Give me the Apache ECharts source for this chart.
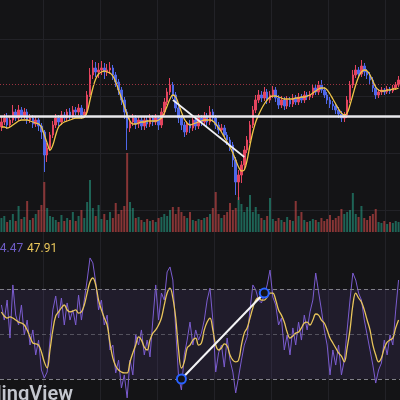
<!DOCTYPE html>
<html><head><meta charset="utf-8">
<script src="https://cdn.jsdelivr.net/npm/echarts@6/dist/echarts.min.js"></script>
<style>html,body{margin:0;padding:0;background:#141416;}#c{width:400px;height:400px;}</style>
</head><body><div id="c"></div>
<script>
const openP = [140,145,149,142,147,155,149,157,151,155,147,149,143,147,141,135,112,119,132,142,149,145,152,149,155,151,157,155,159,152,155,172,192,199,195,197,199,195,197,199,192,185,177,167,155,139,145,149,143,147,141,147,143,149,145,149,142,155,165,175,182,172,159,149,142,135,143,139,147,141,149,145,151,145,155,149,142,137,139,132,127,122,107,85,92,102,117,127,142,157,167,172,169,175,167,172,177,169,162,167,161,167,163,169,165,170,167,172,170,172,179,175,182,177,172,167,163,161,157,153,149,152,167,182,192,197,193,201,195,192,187,179,172,175,177,175,178,176,179,182];
const closeP = [145,149,142,147,155,149,157,151,155,147,149,143,147,141,135,112,119,132,142,149,145,152,149,155,151,157,155,159,152,155,172,192,199,195,197,199,195,197,199,192,185,177,167,155,139,145,149,143,147,141,147,143,149,145,149,142,155,165,175,182,172,159,149,142,135,143,139,147,141,149,145,151,145,155,149,142,137,139,132,127,122,107,85,92,102,117,127,142,157,167,172,169,175,167,172,177,169,162,167,161,167,163,169,165,170,167,172,170,172,179,175,182,177,172,167,163,161,157,153,149,152,167,182,192,197,193,201,195,192,187,179,172,175,177,175,178,176,179,182,187];
const highP = [150,153,154,151,162,158,162,160,159,158,153,152,150,149,144,137,124,135,146,153,152,156,155,158,159,161,160,163,162,158,176,199,207,205,204,206,204,203,205,202,195,188,180,170,158,149,153,152,151,150,150,151,153,152,153,151,159,169,179,189,185,175,162,152,145,146,147,151,150,153,152,155,154,161,158,152,145,143,142,135,130,125,110,97,106,121,131,146,161,172,177,176,180,178,176,181,180,172,171,170,171,170,173,172,174,173,176,175,176,183,182,186,187,180,175,170,166,164,160,156,155,171,186,197,202,200,207,204,198,195,190,182,178,180,179,181,180,182,185,191];
const lowP = [136,142,138,139,144,146,146,148,148,143,144,139,140,136,128,95,105,116,129,139,141,142,146,146,147,148,152,152,148,149,152,170,188,190,189,192,188,191,193,187,180,172,162,148,117,135,141,138,139,137,137,139,140,141,142,137,139,152,162,172,168,155,144,137,130,132,134,136,137,138,141,142,141,142,145,138,133,134,128,122,116,100,72,67,84,98,114,124,139,154,164,165,166,163,164,169,165,158,159,157,158,160,160,162,162,164,164,167,167,169,172,172,174,169,163,159,157,153,149,145,145,149,164,179,189,189,190,191,188,183,175,168,169,172,172,173,173,174,177,180];
const volume = [14,16,10,12,18,11,26,13,15,31,12,14,18,22,27,50,24,16,15,12,10,17,11,14,12,20,11,16,22,14,30,52,24,16,27,13,18,12,20,14,29,18,22,26,79,30,24,14,15,12,10,13,11,12,10,14,15,18,16,22,25,18,25,20,16,14,20,12,11,13,12,14,15,18,24,40,18,14,17,20,29,22,24,35,28,20,25,37,20,25,18,14,12,16,34,13,11,14,12,10,15,12,11,31,16,20,12,10,11,13,12,10,14,11,13,17,12,14,16,23,18,20,22,39,18,15,26,14,12,16,18,23,10,9,11,8,10,9,11,10];
const priceMA = [140,140,139,140,142,144,146,147,147,147,146,145,144,143,140,132,124,117,122,132,140,143,145,146,147,148,149,149,149,150,155,167,179,188,193,195,196,195,194,191,185,177,169,161,152,146,143,143,144,145,145,146,146,146,146,147,149,154,161,168,172,170,163,155,148,144,142,143,144,145,146,147,147,147,146,143,139,135,130,125,120,114,107,100,96,97,107,122,135,145,152,158,163,167,170,171,171,170,169,168,168,168,168,169,169,170,170,171,172,174,176,178,179,179,177,173,168,163,158,154,152,154,162,172,182,190,195,197,196,192,186,180,177,176,176,177,177,178,178,179];
const rsi = [62.9,56.2,65.1,48.2,71.8,58.4,54.0,62.9,49.6,56.2,45.1,51.8,40.7,47.3,34.0,30.4,33.1,47.3,60.7,66.9,57.1,66.0,54.0,63.8,56.2,60.7,54.0,67.3,56.2,65.1,74.0,83.8,81.6,73.1,60.7,65.1,54.0,58.4,42.9,45.1,32.7,38.4,26.0,31.8,21.6,38.4,31.8,49.6,45.1,51.8,40.7,47.3,39.8,56.2,71.8,56.2,68.2,65.1,77.6,79.8,74.0,51.8,30.9,25.1,40.7,47.3,55.3,45.1,51.8,47.3,50.4,56.2,65.1,70.4,56.2,33.1,41.6,45.1,35.3,48.2,38.4,33.1,23.8,30.9,38.4,45.1,48.7,60.7,71.8,69.6,65.1,63.8,67.3,71.8,78.4,66.4,62.9,54.0,57.1,42.9,49.6,40.7,52.7,45.1,55.3,47.3,58.4,51.8,59.8,65.1,77.1,68.7,60.7,51.8,45.1,31.8,42.9,36.2,45.1,31.8,38.4,51.8,65.1,77.1,74.0,68.2,65.1,56.2,49.6,42.9,36.2,28.2,34.0,37.1,47.3,40.7,49.6,45.1,60.7,74.0];
const rsiMA = [59.8,58.0,57.1,57.6,57.1,56.2,55.3,54.9,54.0,51.8,48.7,46.0,45.6,45.1,42.0,37.6,34.9,42.9,51.8,58.0,59.8,61.6,62.9,60.7,59.8,60.2,60.7,59.3,59.8,62.9,68.2,73.1,74.9,71.8,65.1,60.7,57.1,54.0,46.0,39.3,35.8,34.0,33.1,32.7,32.7,37.6,41.6,45.1,48.7,47.3,44.2,42.9,47.3,50.4,51.8,54.0,57.1,62.9,68.2,70.4,66.0,57.1,42.9,34.9,37.6,43.8,45.1,47.3,48.2,45.1,46.0,51.8,55.3,57.1,51.8,45.1,42.9,43.8,45.6,44.7,40.7,38.4,37.6,38.4,45.1,50.4,52.7,57.1,61.6,65.1,66.0,65.1,65.1,66.4,68.2,68.2,65.1,60.7,58.4,55.3,50.9,48.2,49.1,50.4,50.9,52.7,54.9,55.3,54.0,56.2,58.9,58.4,56.2,54.9,51.8,48.2,46.0,43.8,41.6,40.2,37.6,43.8,51.8,62.9,68.2,66.0,64.2,60.7,56.2,51.8,45.1,40.7,37.6,39.3,43.8,46.4,47.3,48.2,52.7,56.2];
const levelLine = 151;
const resistanceLine = 183;
const priceTrend = [[60, 167], [85, 110]];
const rsiTrend = [[63, 30], [92, 68.2]];
const rsiUpper = 70, rsiMid = 50, rsiLower = 30;
const rsiLabel = '44.47';
const rsiMALabel = '47.91';
const watermark = 'TradingView';
const categories = closeP.map((_, i) => 'D' + (i + 1));

const chart = echarts.init(document.getElementById('c'), null, {renderer: 'canvas'});
const gridColor = '#222227';
const upColor = '#e4445e', downColor = '#4f67e8';
const hidden = {axisLine: {show: false}, axisTick: {show: false}, axisLabel: {show: false}};
const vSplit = {show: true, interval: (idx) => idx % 20 === 15, lineStyle: {color: gridColor, width: 1}};

const candleData = closeP.map((c, i) => [openP[i], c, lowP[i], highP[i]]);
const volData = volume.map((v, i) => ({
  value: v,
  itemStyle: {color: closeP[i] >= openP[i] ? 'rgba(38,166,140,0.55)' : 'rgba(230,80,80,0.55)'}
}));

chart.setOption({
  backgroundColor: '#141416',
  animation: false,
  title: [
    {text: rsiLabel, left: -7, top: 243, padding: 0, textStyle: {color: '#6e5cc4', fontSize: 12, fontWeight: 'normal', fontFamily: 'Roboto'}},
    {text: rsiMALabel, left: 27, top: 243, padding: 0, textStyle: {color: '#e9c65b', fontSize: 12, fontWeight: 'normal', fontFamily: 'Roboto'}}
  ],
  graphic: [{
    type: 'text', x: 73, y: 385, silent: true, z: 100,
    style: {text: watermark, fill: 'rgba(215,218,226,0.9)', font: '600 20px Roboto', textAlign: 'right', textVerticalAlign: 'top'}
  }],
  grid: [
    {left: 0, right: 0, top: 0, height: 267},
    {left: 0, right: 0, top: 132, height: 100},
    {left: 0, right: 0, top: 235, height: 165}
  ],
  xAxis: [
    Object.assign({type: 'category', gridIndex: 0, data: categories, boundaryGap: true, splitLine: vSplit}, hidden),
    Object.assign({type: 'category', gridIndex: 1, data: categories, boundaryGap: true, splitLine: {show: false}}, hidden),
    Object.assign({type: 'category', gridIndex: 2, data: categories, boundaryGap: true, splitLine: vSplit}, hidden)
  ],
  yAxis: [
    Object.assign({type: 'value', gridIndex: 0, min: 0, max: 267, interval: 57,
      splitLine: {show: true, showMinLine: false, showMaxLine: false, lineStyle: {color: gridColor, width: 1}}}, hidden),
    Object.assign({type: 'value', gridIndex: 1, min: 0, max: 100, splitLine: {show: false}}, hidden),
    Object.assign({type: 'value', gridIndex: 2, min: 20.667, max: 94, splitLine: {show: false}}, hidden)
  ],
  series: [
    {
      type: 'bar', xAxisIndex: 1, yAxisIndex: 1, data: volData, barWidth: 2, z: 1
    },
    {
      type: 'candlestick', xAxisIndex: 0, yAxisIndex: 0, data: candleData, barWidth: 2, z: 3,
      itemStyle: {color: upColor, color0: downColor, borderColor: upColor, borderColor0: downColor, borderWidth: 1},
      markLine: {
        silent: true, symbol: ['none', 'none'], label: {show: false},
        data: [
          {yAxis: resistanceLine, lineStyle: {color: '#9a3340', width: 1, type: [1, 2]}},
          {yAxis: levelLine, lineStyle: {color: '#e8e8ec', width: 2.5, type: 'solid'}}
        ]
      }
    },
    {
      type: 'line', xAxisIndex: 0, yAxisIndex: 0, data: priceMA, symbol: 'none', smooth: 0.4, z: 4,
      lineStyle: {color: '#f0c648', width: 1.3}
    },
    {
      type: 'line', xAxisIndex: 0, yAxisIndex: 0, data: priceTrend, symbol: 'none', z: 5,
      lineStyle: {color: '#f0f0f4', width: 1.6}
    },
    {
      type: 'line', xAxisIndex: 2, yAxisIndex: 2, data: rsi, symbol: 'none', z: 3,
      lineStyle: {color: '#7b5cd0', width: 1},
      markArea: {silent: true, itemStyle: {color: 'rgba(126,87,194,0.12)'}, data: [[{yAxis: rsiUpper}, {yAxis: rsiLower}]]},
      markLine: {
        silent: true, symbol: ['none', 'none'], label: {show: false},
        data: [
          {yAxis: rsiUpper, lineStyle: {color: '#808088', width: 1, type: [4, 3]}},
          {yAxis: rsiMid, lineStyle: {color: 'rgba(128,128,136,0.55)', width: 1, type: [4, 3]}},
          {yAxis: rsiLower, lineStyle: {color: '#808088', width: 1, type: [4, 3]}}
        ]
      }
    },
    {
      type: 'line', xAxisIndex: 2, yAxisIndex: 2, data: rsiMA, symbol: 'none', smooth: 0.4, z: 4,
      lineStyle: {color: '#e9c65b', width: 1.3}
    },
    {
      type: 'line', xAxisIndex: 2, yAxisIndex: 2, data: rsiTrend, z: 6,
      symbol: 'circle', symbolSize: 9, showAllSymbol: true,
      lineStyle: {color: '#f4f4f6', width: 2},
      itemStyle: {color: '#141416', borderColor: '#2962ff', borderWidth: 2}
    }
  ]
});
</script>
</body></html>
